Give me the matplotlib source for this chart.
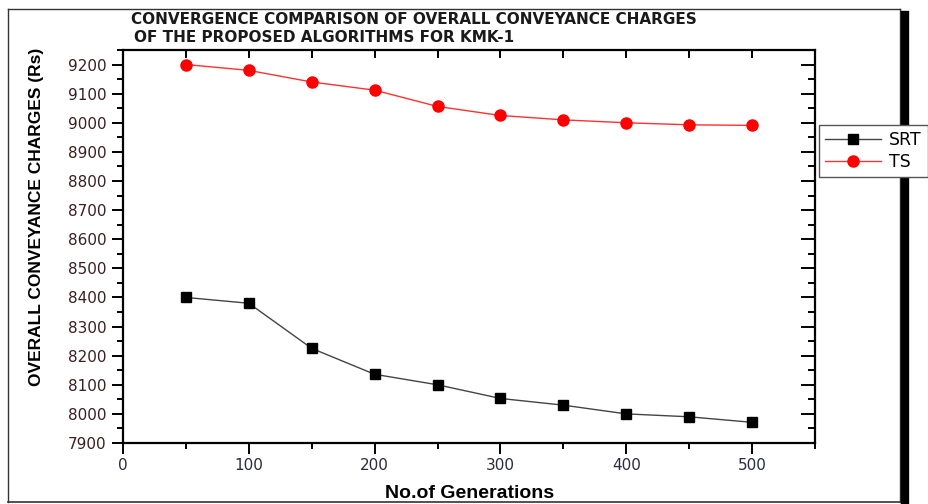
import matplotlib.pyplot as plt
from matplotlib.lines import Line2D
from matplotlib.ticker import MultipleLocator

generations = [50, 100, 150, 200, 250, 300, 350, 400, 450, 500]
srt_cost = [8400, 8380, 8225, 8136, 8100, 8053, 8030, 8000, 7990, 7971]
ts_cost = [9200, 9180, 9140, 9112, 9056, 9025, 9010, 9000, 8993, 8991]

title_1 = 'CONVERGENCE COMPARISON OF OVERALL CONVEYANCE CHARGES'
title_2 = 'OF THE PROPOSED ALGORITHMS FOR KMK-1'

fig = plt.figure(figsize=(9.29, 5.04), dpi=100)
ax = fig.add_axes([123/929, 1-443/504, (815-123)/929, (443-50)/504])

ax.plot(generations, srt_cost, color='#444444', lw=1, marker='s', ms=7,
        mfc='black', mec='black', label='SRT')
ax.plot(generations, ts_cost, color='#ff3030', lw=1, marker='o', ms=8,
        mfc='red', mec='red', label='TS')

ax.set_xlim(0, 550)
ax.set_ylim(7900, 9250)
ax.xaxis.set_major_locator(MultipleLocator(100))
ax.xaxis.set_minor_locator(MultipleLocator(50))
ax.yaxis.set_major_locator(MultipleLocator(100))
ax.yaxis.set_minor_locator(MultipleLocator(50))

for s in ax.spines.values():
    s.set_linewidth(1.6)

ax.tick_params(which='both', top=True, right=True, width=1.4)
ax.tick_params(axis='x', which='major', direction='out', length=8, labelsize=11,
               labelcolor='#2a2a40', pad=3)
ax.tick_params(axis='x', which='minor', direction='out', length=4)
ax.tick_params(axis='y', which='major', direction='out', length=8, labelsize=11,
               labelcolor='#3a2020', pad=4)
ax.tick_params(axis='y', which='minor', direction='out', length=4)
# top and right ticks point inward
for t in ax.xaxis.get_major_ticks() + ax.xaxis.get_minor_ticks():
    t.tick2line.set_marker(3)
    t.tick2line.set_markersize(6)
for t in ax.yaxis.get_major_ticks():
    t.tick2line.set_marker(0)
    t.tick2line.set_markersize(10)
for t in ax.yaxis.get_minor_ticks():
    t.tick2line.set_marker(0)
    t.tick2line.set_markersize(5)

fig.text(470/929, 1-493/504, 'No.of Generations', fontsize=14, fontweight='bold',
         family='Liberation Sans', ha='center', va='center')
fig.text(37/929, 1-217/504, 'OVERALL CONVEYANCE CHARGES (Rs)', fontsize=12.5,
         fontweight='bold', family='Liberation Sans', rotation=90,
         ha='center', va='center')

fig.text(131/929, 1-20/504, title_1, fontsize=11, fontweight='bold', va='center',
         color='#1a1a1a')
fig.text(134/929, 1-37/504, title_2, fontsize=11, fontweight='bold', va='center',
         color='#1a1a1a')

leg = ax.legend(loc='upper left', bbox_to_anchor=(819/929, 1-125/504),
                bbox_transform=fig.transFigure, fontsize=12.5, frameon=True,
                fancybox=False, edgecolor='#555555', framealpha=1,
                borderaxespad=0, handlelength=3.2, handletextpad=0.5,
                borderpad=0.35, labelspacing=0.25)
leg.get_frame().set_linewidth(1)

# page frame around the figure, kept behind the legend
fig.add_artist(Line2D([8/929, 900/929], [1-9/504, 1-9/504], color='#333333', lw=1, zorder=-1))
fig.add_artist(Line2D([8/929, 8/929], [1-9/504, 1-502/504], color='#333333', lw=1, zorder=-1))
fig.add_artist(Line2D([8/929, 900/929], [1-502/504, 1-502/504], color='#333333', lw=1.2, zorder=-1))
fig.add_artist(Line2D([900/929, 900/929], [1-9/504, 1-502/504], color='#333333', lw=1, zorder=-1))
fig.add_artist(Line2D([905/929, 905/929], [1-15/504, 0], color='black', lw=6, zorder=-1))

fig.savefig('out.png', dpi=100)
